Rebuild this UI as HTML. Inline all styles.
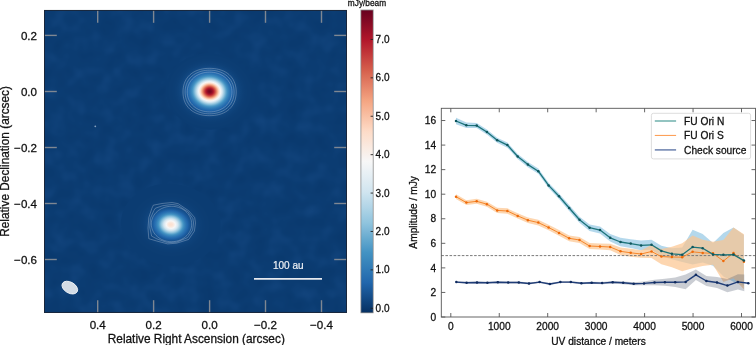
<!DOCTYPE html>
<html><head><meta charset="utf-8"><style>
html,body{margin:0;padding:0;background:#fff;width:756px;height:345px;overflow:hidden}
svg{display:block;will-change:transform}
text{font-family:'Liberation Sans', sans-serif;fill:#111;stroke:#111;stroke-width:0.28px}
</style></head><body>
<svg width="756" height="345" viewBox="0 0 756 345">
<defs><radialGradient id="gN"><stop offset="0.0000" stop-color="#760521"/><stop offset="0.0100" stop-color="#770522"/><stop offset="0.0200" stop-color="#7a0622"/><stop offset="0.0300" stop-color="#7e0723"/><stop offset="0.0400" stop-color="#840924"/><stop offset="0.0500" stop-color="#8b0c25"/><stop offset="0.0600" stop-color="#940e26"/><stop offset="0.0700" stop-color="#9e1228"/><stop offset="0.0800" stop-color="#aa162a"/><stop offset="0.0900" stop-color="#b51d2d"/><stop offset="0.1000" stop-color="#bb2b34"/><stop offset="0.1100" stop-color="#c33a3b"/><stop offset="0.1200" stop-color="#cb4a42"/><stop offset="0.1300" stop-color="#d35a4a"/><stop offset="0.1400" stop-color="#db6b56"/><stop offset="0.1500" stop-color="#e27c63"/><stop offset="0.1600" stop-color="#ea8e70"/><stop offset="0.1700" stop-color="#f2a07e"/><stop offset="0.1800" stop-color="#f6b090"/><stop offset="0.1900" stop-color="#f8bea2"/><stop offset="0.2000" stop-color="#fbcdb5"/><stop offset="0.2100" stop-color="#fddbc8"/><stop offset="0.2200" stop-color="#fbe3d5"/><stop offset="0.2300" stop-color="#faeae1"/><stop offset="0.2400" stop-color="#f8f2ee"/><stop offset="0.2500" stop-color="#f4f6f6"/><stop offset="0.2600" stop-color="#ebf1f5"/><stop offset="0.2700" stop-color="#e1edf3"/><stop offset="0.2800" stop-color="#d8e8f1"/><stop offset="0.2900" stop-color="#cee3ef"/><stop offset="0.3000" stop-color="#c0dceb"/><stop offset="0.3100" stop-color="#b2d5e7"/><stop offset="0.3200" stop-color="#a5cfe3"/><stop offset="0.3300" stop-color="#98c8e0"/><stop offset="0.3400" stop-color="#8bc1dc"/><stop offset="0.3500" stop-color="#7db7d7"/><stop offset="0.3600" stop-color="#6fafd2"/><stop offset="0.3700" stop-color="#62a7ce"/><stop offset="0.3800" stop-color="#569fca"/><stop offset="0.3900" stop-color="#4b98c6"/><stop offset="0.4000" stop-color="#4291c2"/><stop offset="0.4100" stop-color="#3d8bbf"/><stop offset="0.4200" stop-color="#3986bc"/><stop offset="0.4300" stop-color="#3581ba"/><stop offset="0.4400" stop-color="#327cb7"/><stop offset="0.4500" stop-color="#2e78b5"/><stop offset="0.4600" stop-color="#2b74b3"/><stop offset="0.4700" stop-color="#2870b1"/><stop offset="0.4800" stop-color="#266caf"/><stop offset="0.4900" stop-color="#2369ae"/><stop offset="0.5000" stop-color="#2166ac"/><stop offset="0.5100" stop-color="#1f63a7"/><stop offset="0.5200" stop-color="#1e5fa3"/><stop offset="0.5300" stop-color="#1c5c9f"/><stop offset="0.5400" stop-color="#1b5a9b"/><stop offset="0.5500" stop-color="#195798"/><stop offset="0.5600" stop-color="#185594"/><stop offset="0.5700" stop-color="#175391"/><stop offset="0.5800" stop-color="#16518f"/><stop offset="0.5900" stop-color="#154f8c"/><stop offset="0.6000" stop-color="#144e8a"/><stop offset="0.6100" stop-color="#144c88"/><stop offset="0.6200" stop-color="#134b86"/><stop offset="0.6300" stop-color="#124984"/><stop offset="0.6400" stop-color="#124882"/><stop offset="0.6500" stop-color="#114781"/><stop offset="0.6600" stop-color="#104680"/><stop offset="0.6700" stop-color="#10457e"/><stop offset="0.6800" stop-color="#10447d"/><stop offset="0.6900" stop-color="#0f447c"/><stop offset="0.7000" stop-color="#0f437b"/><stop offset="0.7100" stop-color="#0e427a"/><stop offset="0.7200" stop-color="#0e4279"/><stop offset="0.7300" stop-color="#0e4179"/><stop offset="0.7400" stop-color="#0e4178"/><stop offset="0.7500" stop-color="#0d4077"/><stop offset="0.7600" stop-color="#0d4077"/><stop offset="0.7700" stop-color="#0d3f76"/><stop offset="0.7800" stop-color="#0d3f76"/><stop offset="0.7900" stop-color="#0d3f75"/><stop offset="0.8000" stop-color="#0c3e75"/><stop offset="0.8100" stop-color="#0c3e75"/><stop offset="0.8200" stop-color="#0c3e74"/><stop offset="0.8300" stop-color="#0c3e74"/><stop offset="0.8400" stop-color="#0c3e74"/><stop offset="0.8500" stop-color="#0c3d74"/><stop offset="0.8600" stop-color="#0c3d73"/><stop offset="0.8700" stop-color="#0c3d73"/><stop offset="0.8800" stop-color="#0c3d73"/><stop offset="0.8900" stop-color="#0c3d73"/><stop offset="0.9000" stop-color="#0c3d73"/><stop offset="0.9100" stop-color="#0c3d73"/><stop offset="0.9200" stop-color="#0c3d73"/><stop offset="0.9300" stop-color="#0c3d72"/><stop offset="0.9400" stop-color="#0b3d72"/><stop offset="0.9500" stop-color="#0b3c72"/><stop offset="0.9600" stop-color="#0b3c72"/><stop offset="0.9700" stop-color="#0b3c72"/><stop offset="0.9800" stop-color="#0b3c72"/><stop offset="0.9900" stop-color="#0b3c72"/><stop offset="1.0000" stop-color="#0b3c72"/></radialGradient>
<radialGradient id="gS"><stop offset="0.0000" stop-color="#fce1d0"/><stop offset="0.0100" stop-color="#fce1d1"/><stop offset="0.0200" stop-color="#fce2d3"/><stop offset="0.0300" stop-color="#fbe3d5"/><stop offset="0.0400" stop-color="#fbe5d9"/><stop offset="0.0500" stop-color="#fae8dd"/><stop offset="0.0600" stop-color="#faebe2"/><stop offset="0.0700" stop-color="#f9eee8"/><stop offset="0.0800" stop-color="#f8f2ef"/><stop offset="0.0900" stop-color="#f7f7f7"/><stop offset="0.1000" stop-color="#f1f4f6"/><stop offset="0.1100" stop-color="#eaf1f5"/><stop offset="0.1200" stop-color="#e3edf3"/><stop offset="0.1300" stop-color="#dbeaf2"/><stop offset="0.1400" stop-color="#d4e6f1"/><stop offset="0.1500" stop-color="#c9e1ee"/><stop offset="0.1600" stop-color="#bcdbea"/><stop offset="0.1700" stop-color="#b0d4e6"/><stop offset="0.1800" stop-color="#a3cee3"/><stop offset="0.1900" stop-color="#97c7df"/><stop offset="0.2000" stop-color="#89bfdb"/><stop offset="0.2100" stop-color="#7ab6d6"/><stop offset="0.2200" stop-color="#6cadd1"/><stop offset="0.2300" stop-color="#5ea4cc"/><stop offset="0.2400" stop-color="#519cc8"/><stop offset="0.2500" stop-color="#4494c4"/><stop offset="0.2600" stop-color="#3f8dc0"/><stop offset="0.2700" stop-color="#3a87bd"/><stop offset="0.2800" stop-color="#3581ba"/><stop offset="0.2900" stop-color="#317cb7"/><stop offset="0.3000" stop-color="#2e77b4"/><stop offset="0.3100" stop-color="#2a72b2"/><stop offset="0.3200" stop-color="#276eb0"/><stop offset="0.3300" stop-color="#246aae"/><stop offset="0.3400" stop-color="#2166ac"/><stop offset="0.3500" stop-color="#1f62a6"/><stop offset="0.3600" stop-color="#1d5ea1"/><stop offset="0.3700" stop-color="#1b5b9d"/><stop offset="0.3800" stop-color="#1a5899"/><stop offset="0.3900" stop-color="#185595"/><stop offset="0.4000" stop-color="#175392"/><stop offset="0.4100" stop-color="#16518f"/><stop offset="0.4200" stop-color="#154f8c"/><stop offset="0.4300" stop-color="#144d89"/><stop offset="0.4400" stop-color="#134b87"/><stop offset="0.4500" stop-color="#124a85"/><stop offset="0.4600" stop-color="#124983"/><stop offset="0.4700" stop-color="#114782"/><stop offset="0.4800" stop-color="#114680"/><stop offset="0.4900" stop-color="#10457f"/><stop offset="0.5000" stop-color="#10457e"/><stop offset="0.5100" stop-color="#0f447c"/><stop offset="0.5200" stop-color="#0f437b"/><stop offset="0.5300" stop-color="#0f427b"/><stop offset="0.5400" stop-color="#0e427a"/><stop offset="0.5500" stop-color="#0e4179"/><stop offset="0.5600" stop-color="#0e4178"/><stop offset="0.5700" stop-color="#0d4078"/><stop offset="0.5800" stop-color="#0d4077"/><stop offset="0.5900" stop-color="#0d4077"/><stop offset="0.6000" stop-color="#0d3f76"/><stop offset="0.6100" stop-color="#0d3f76"/><stop offset="0.6200" stop-color="#0d3f75"/><stop offset="0.6300" stop-color="#0c3e75"/><stop offset="0.6400" stop-color="#0c3e75"/><stop offset="0.6500" stop-color="#0c3e74"/><stop offset="0.6600" stop-color="#0c3e74"/><stop offset="0.6700" stop-color="#0c3e74"/><stop offset="0.6800" stop-color="#0c3d74"/><stop offset="0.6900" stop-color="#0c3d73"/><stop offset="0.7000" stop-color="#0c3d73"/><stop offset="0.7100" stop-color="#0c3d73"/><stop offset="0.7200" stop-color="#0c3d73"/><stop offset="0.7300" stop-color="#0c3d73"/><stop offset="0.7400" stop-color="#0c3d73"/><stop offset="0.7500" stop-color="#0c3d73"/><stop offset="0.7600" stop-color="#0c3d72"/><stop offset="0.7700" stop-color="#0b3d72"/><stop offset="0.7800" stop-color="#0b3c72"/><stop offset="0.7900" stop-color="#0b3c72"/><stop offset="0.8000" stop-color="#0b3c72"/><stop offset="0.8100" stop-color="#0b3c72"/><stop offset="0.8200" stop-color="#0b3c72"/><stop offset="0.8300" stop-color="#0b3c72"/><stop offset="0.8400" stop-color="#0b3c72"/><stop offset="0.8500" stop-color="#0b3c72"/><stop offset="0.8600" stop-color="#0b3c72"/><stop offset="0.8700" stop-color="#0b3c72"/><stop offset="0.8800" stop-color="#0b3c72"/><stop offset="0.8900" stop-color="#0b3c72"/><stop offset="0.9000" stop-color="#0b3c72"/><stop offset="0.9100" stop-color="#0b3c72"/><stop offset="0.9200" stop-color="#0b3c72"/><stop offset="0.9300" stop-color="#0b3c72"/><stop offset="0.9400" stop-color="#0b3c72"/><stop offset="0.9500" stop-color="#0b3c72"/><stop offset="0.9600" stop-color="#0b3c72"/><stop offset="0.9700" stop-color="#0b3c72"/><stop offset="0.9800" stop-color="#0b3c72"/><stop offset="0.9900" stop-color="#0b3c72"/><stop offset="1.0000" stop-color="#0b3c72"/></radialGradient>
<linearGradient id="cb" x1="0" y1="0" x2="0" y2="1"><stop offset="0.0000" stop-color="#67001f"/><stop offset="0.0167" stop-color="#740421"/><stop offset="0.0333" stop-color="#800823"/><stop offset="0.0500" stop-color="#8c0c25"/><stop offset="0.0667" stop-color="#991027"/><stop offset="0.0833" stop-color="#a61429"/><stop offset="0.1000" stop-color="#b2182b"/><stop offset="0.1167" stop-color="#b82431"/><stop offset="0.1333" stop-color="#be3036"/><stop offset="0.1500" stop-color="#c43c3c"/><stop offset="0.1667" stop-color="#ca4842"/><stop offset="0.1833" stop-color="#d05447"/><stop offset="0.2000" stop-color="#d6604d"/><stop offset="0.2167" stop-color="#db6c56"/><stop offset="0.2333" stop-color="#e0775f"/><stop offset="0.2500" stop-color="#e58268"/><stop offset="0.2667" stop-color="#ea8e70"/><stop offset="0.2833" stop-color="#ef9979"/><stop offset="0.3000" stop-color="#f4a582"/><stop offset="0.3167" stop-color="#f6ae8d"/><stop offset="0.3333" stop-color="#f7b799"/><stop offset="0.3500" stop-color="#f8c0a4"/><stop offset="0.3667" stop-color="#fac9b0"/><stop offset="0.3833" stop-color="#fcd2bb"/><stop offset="0.4000" stop-color="#fddbc7"/><stop offset="0.4167" stop-color="#fce0cf"/><stop offset="0.4333" stop-color="#fbe4d7"/><stop offset="0.4500" stop-color="#fae9df"/><stop offset="0.4667" stop-color="#f9eee7"/><stop offset="0.4833" stop-color="#f8f2ef"/><stop offset="0.5000" stop-color="#f7f7f7"/><stop offset="0.5167" stop-color="#f1f4f6"/><stop offset="0.5333" stop-color="#eaf1f5"/><stop offset="0.5500" stop-color="#e4eef4"/><stop offset="0.5667" stop-color="#deebf2"/><stop offset="0.5833" stop-color="#d7e8f1"/><stop offset="0.6000" stop-color="#d1e5f0"/><stop offset="0.6167" stop-color="#c6e0ed"/><stop offset="0.6333" stop-color="#bcdaea"/><stop offset="0.6500" stop-color="#b2d5e7"/><stop offset="0.6667" stop-color="#a7d0e4"/><stop offset="0.6833" stop-color="#9ccae1"/><stop offset="0.7000" stop-color="#92c5de"/><stop offset="0.7167" stop-color="#85bdda"/><stop offset="0.7333" stop-color="#78b4d5"/><stop offset="0.7500" stop-color="#6aacd0"/><stop offset="0.7667" stop-color="#5da4cc"/><stop offset="0.7833" stop-color="#509bc8"/><stop offset="0.8000" stop-color="#4393c3"/><stop offset="0.8167" stop-color="#3d8cbf"/><stop offset="0.8333" stop-color="#3884bb"/><stop offset="0.8500" stop-color="#327db8"/><stop offset="0.8667" stop-color="#2c75b4"/><stop offset="0.8833" stop-color="#276eb0"/><stop offset="0.9000" stop-color="#2166ac"/><stop offset="0.9167" stop-color="#1c5da0"/><stop offset="0.9333" stop-color="#185493"/><stop offset="0.9500" stop-color="#134b87"/><stop offset="0.9667" stop-color="#0e427a"/><stop offset="0.9833" stop-color="#0a396e"/><stop offset="1.0000" stop-color="#053061"/></linearGradient>
<filter id="nzL" x="44" y="10" width="303" height="303" filterUnits="userSpaceOnUse" color-interpolation-filters="sRGB"><feTurbulence type="fractalNoise" baseFrequency="0.06" numOctaves="2" seed="11"/><feColorMatrix type="matrix" values="0 0 0 0 0.25  0 0 0 0 0.48  0 0 0 0 0.78  0.3 0 0 0 -0.15"/></filter>
<filter id="nzD" x="44" y="10" width="303" height="303" filterUnits="userSpaceOnUse" color-interpolation-filters="sRGB"><feTurbulence type="fractalNoise" baseFrequency="0.06" numOctaves="2" seed="11"/><feColorMatrix type="matrix" values="0 0 0 0 0.0  0 0 0 0 0.12  0 0 0 0 0.28  -0.3 0 0 0 0.15"/></filter>
<clipPath id="clipL"><rect x="44" y="10" width="303" height="303"/></clipPath></defs>
<g clip-path="url(#clipL)">
<rect x="44" y="10" width="303" height="303" fill="#0b3c72"/>
<rect x="44" y="10" width="303" height="303" filter="url(#nzL)"/>
<rect x="44" y="10" width="303" height="303" filter="url(#nzD)"/>
<g transform="translate(209.70 91.40) rotate(5.0) scale(1 0.8700)"><circle cx="0" cy="0" r="44.00" fill="url(#gN)"/></g>
<g transform="translate(170.80 224.60) rotate(5.0) scale(1 0.8200)"><circle cx="0" cy="0" r="50.00" fill="url(#gS)"/></g>
<path d="M236.21 92.00 L236.14 94.06 L235.92 96.13 L235.54 98.18 L234.99 100.22 L234.24 102.22 L233.28 104.16 L232.11 106.01 L230.71 107.75 L229.11 109.35 L227.31 110.77 L225.36 112.01 L223.27 113.06 L221.09 113.91 L218.84 114.58 L216.55 115.07 L214.24 115.41 L211.92 115.60 L209.60 115.67 L207.28 115.60 L204.96 115.41 L202.65 115.07 L200.36 114.58 L198.11 113.91 L195.93 113.06 L193.84 112.01 L191.89 110.77 L190.09 109.35 L188.49 107.75 L187.09 106.01 L185.92 104.16 L184.96 102.22 L184.21 100.22 L183.66 98.18 L183.28 96.13 L183.06 94.06 L182.99 92.00 L183.06 89.94 L183.28 87.87 L183.66 85.82 L184.21 83.78 L184.96 81.78 L185.92 79.84 L187.09 77.99 L188.49 76.25 L190.09 74.65 L191.89 73.23 L193.84 71.99 L195.93 70.94 L198.11 70.09 L200.36 69.42 L202.65 68.93 L204.96 68.59 L207.28 68.40 L209.60 68.33 L211.92 68.40 L214.24 68.59 L216.55 68.93 L218.84 69.42 L221.09 70.09 L223.27 70.94 L225.36 71.99 L227.31 73.23 L229.11 74.65 L230.71 76.25 L232.11 77.99 L233.28 79.84 L234.24 81.78 L234.99 83.78 L235.54 85.82 L235.92 87.87 L236.14 89.94 Z" stroke="rgba(200,212,228,0.42)" stroke-width="0.8" fill="none"/>
<path d="M234.10 92.00 L234.03 93.90 L233.80 95.80 L233.41 97.69 L232.86 99.54 L232.12 101.36 L231.21 103.12 L230.10 104.79 L228.81 106.37 L227.35 107.81 L225.72 109.12 L223.96 110.27 L222.07 111.25 L220.10 112.07 L218.06 112.72 L215.98 113.22 L213.87 113.56 L211.74 113.77 L209.60 113.83 L207.46 113.77 L205.33 113.56 L203.22 113.22 L201.14 112.72 L199.10 112.07 L197.13 111.25 L195.24 110.27 L193.48 109.12 L191.85 107.81 L190.39 106.37 L189.10 104.79 L187.99 103.12 L187.08 101.36 L186.34 99.54 L185.79 97.69 L185.40 95.80 L185.17 93.90 L185.10 92.00 L185.17 90.10 L185.40 88.20 L185.79 86.31 L186.34 84.46 L187.08 82.64 L187.99 80.88 L189.10 79.21 L190.39 77.63 L191.85 76.19 L193.48 74.88 L195.24 73.73 L197.13 72.75 L199.10 71.93 L201.14 71.28 L203.22 70.78 L205.33 70.44 L207.46 70.23 L209.60 70.17 L211.74 70.23 L213.87 70.44 L215.98 70.78 L218.06 71.28 L220.10 71.93 L222.07 72.75 L223.96 73.73 L225.72 74.88 L227.35 76.19 L228.81 77.63 L230.10 79.21 L231.21 80.88 L232.12 82.64 L232.86 84.46 L233.41 86.31 L233.80 88.20 L234.03 90.10 Z" stroke="rgba(200,212,228,0.42)" stroke-width="0.8" fill="none"/>
<path d="M231.97 92.00 L231.89 93.73 L231.66 95.46 L231.27 97.16 L230.72 98.83 L230.01 100.46 L229.14 102.03 L228.12 103.52 L226.93 104.93 L225.61 106.23 L224.14 107.41 L222.56 108.46 L220.88 109.37 L219.12 110.15 L217.29 110.77 L215.41 111.26 L213.49 111.61 L211.55 111.81 L209.60 111.88 L207.65 111.81 L205.71 111.61 L203.79 111.26 L201.91 110.77 L200.08 110.15 L198.32 109.37 L196.64 108.46 L195.06 107.41 L193.59 106.23 L192.27 104.93 L191.08 103.52 L190.06 102.03 L189.19 100.46 L188.48 98.83 L187.93 97.16 L187.54 95.46 L187.31 93.73 L187.23 92.00 L187.31 90.27 L187.54 88.54 L187.93 86.84 L188.48 85.17 L189.19 83.54 L190.06 81.97 L191.08 80.48 L192.27 79.07 L193.59 77.77 L195.06 76.59 L196.64 75.54 L198.32 74.63 L200.08 73.85 L201.91 73.23 L203.79 72.74 L205.71 72.39 L207.65 72.19 L209.60 72.12 L211.55 72.19 L213.49 72.39 L215.41 72.74 L217.29 73.23 L219.12 73.85 L220.88 74.63 L222.56 75.54 L224.14 76.59 L225.61 77.77 L226.93 79.07 L228.12 80.48 L229.14 81.97 L230.01 83.54 L230.72 85.17 L231.27 86.84 L231.66 88.54 L231.89 90.27 Z" stroke="rgba(200,212,228,0.42)" stroke-width="0.8" fill="none"/>
<path d="M153.30 205.20 L162.00 203.50 L172.10 202.50 L178.20 203.70 L188.70 210.80 L194.70 217.60 L195.50 222.90 L194.40 231.10 L188.70 239.40 L176.60 243.20 L167.60 243.90 L156.30 240.90 L148.80 238.70 L148.00 228.10 L148.80 217.60 L151.80 208.50 Z" stroke="rgba(200,212,228,0.42)" stroke-width="0.8" fill="none"/>
<path d="M155.37 208.24 L162.50 205.72 L172.08 204.40 L178.02 205.45 L188.11 212.01 L192.84 218.45 L193.59 223.04 L192.60 230.17 L187.62 237.60 L176.64 242.15 L167.61 242.63 L157.15 239.03 L151.67 236.16 L149.80 227.57 L150.43 218.40 L153.71 210.78 Z" stroke="rgba(200,212,228,0.42)" stroke-width="0.8" fill="none"/>
<path d="M191.70 224.00 L191.62 225.54 L191.39 227.07 L191.01 228.58 L190.48 230.05 L189.81 231.48 L188.99 232.85 L188.05 234.15 L186.97 235.38 L185.78 236.52 L184.48 237.56 L183.09 238.50 L181.60 239.33 L180.04 240.04 L178.41 240.63 L176.73 241.10 L175.01 241.43 L173.26 241.63 L171.50 241.70 L169.74 241.63 L167.99 241.43 L166.27 241.10 L164.59 240.63 L162.96 240.04 L161.40 239.33 L159.91 238.50 L158.52 237.56 L157.22 236.52 L156.03 235.38 L154.95 234.15 L154.01 232.85 L153.19 231.48 L152.52 230.05 L151.99 228.58 L151.61 227.07 L151.38 225.54 L151.30 224.00 L151.38 222.46 L151.61 220.93 L151.99 219.42 L152.52 217.95 L153.19 216.52 L154.01 215.15 L154.95 213.85 L156.03 212.62 L157.22 211.48 L158.52 210.44 L159.91 209.50 L161.40 208.67 L162.96 207.96 L164.59 207.37 L166.27 206.90 L167.99 206.57 L169.74 206.37 L171.50 206.30 L173.26 206.37 L175.01 206.57 L176.73 206.90 L178.41 207.37 L180.04 207.96 L181.60 208.67 L183.09 209.50 L184.48 210.44 L185.78 211.48 L186.97 212.62 L188.05 213.85 L188.99 215.15 L189.81 216.52 L190.48 217.95 L191.01 219.42 L191.39 220.93 L191.62 222.46 Z" stroke="rgba(200,212,228,0.42)" stroke-width="0.8" fill="none"/>
<circle cx="95.3" cy="126.3" r="0.9" fill="rgba(190,205,225,0.7)"/>
<ellipse cx="69.8" cy="287.6" rx="8.5" ry="5.5" transform="rotate(30 69.8 287.6)" fill="rgba(255,255,255,0.82)" stroke="rgba(255,255,255,0.95)" stroke-width="0.8"/>
<line x1="254" y1="278.9" x2="322" y2="278.9" stroke="#e6e9ee" stroke-width="1.7"/>
<text x="288.3" y="269.1" font-size="10" style="fill:#eef1f5;stroke:#eef1f5;stroke-width:0.2px" text-anchor="middle">100 au</text>
<line x1="97.7" y1="10" x2="97.7" y2="22.8" stroke="#7f8792" stroke-width="1.4"/>
<line x1="97.7" y1="313" x2="97.7" y2="300.2" stroke="#7f8792" stroke-width="1.4"/>
<line x1="153.6" y1="10" x2="153.6" y2="22.8" stroke="#7f8792" stroke-width="1.4"/>
<line x1="153.6" y1="313" x2="153.6" y2="300.2" stroke="#7f8792" stroke-width="1.4"/>
<line x1="209.6" y1="10" x2="209.6" y2="22.8" stroke="#7f8792" stroke-width="1.4"/>
<line x1="209.6" y1="313" x2="209.6" y2="300.2" stroke="#7f8792" stroke-width="1.4"/>
<line x1="265.5" y1="10" x2="265.5" y2="22.8" stroke="#7f8792" stroke-width="1.4"/>
<line x1="265.5" y1="313" x2="265.5" y2="300.2" stroke="#7f8792" stroke-width="1.4"/>
<line x1="321.5" y1="10" x2="321.5" y2="22.8" stroke="#7f8792" stroke-width="1.4"/>
<line x1="321.5" y1="313" x2="321.5" y2="300.2" stroke="#7f8792" stroke-width="1.4"/>
<line x1="44" y1="35.4" x2="56.8" y2="35.4" stroke="#7f8792" stroke-width="1.4"/>
<line x1="347" y1="35.4" x2="334.2" y2="35.4" stroke="#7f8792" stroke-width="1.4"/>
<line x1="44" y1="91.5" x2="56.8" y2="91.5" stroke="#7f8792" stroke-width="1.4"/>
<line x1="347" y1="91.5" x2="334.2" y2="91.5" stroke="#7f8792" stroke-width="1.4"/>
<line x1="44" y1="147.5" x2="56.8" y2="147.5" stroke="#7f8792" stroke-width="1.4"/>
<line x1="347" y1="147.5" x2="334.2" y2="147.5" stroke="#7f8792" stroke-width="1.4"/>
<line x1="44" y1="203.5" x2="56.8" y2="203.5" stroke="#7f8792" stroke-width="1.4"/>
<line x1="347" y1="203.5" x2="334.2" y2="203.5" stroke="#7f8792" stroke-width="1.4"/>
<line x1="44" y1="259.5" x2="56.8" y2="259.5" stroke="#7f8792" stroke-width="1.4"/>
<line x1="347" y1="259.5" x2="334.2" y2="259.5" stroke="#7f8792" stroke-width="1.4"/>
</g>
<rect x="44.5" y="10.4" width="302" height="302" fill="none" stroke="#1c2535" stroke-width="0.9"/>
<text x="97.7" y="329.3" font-size="11.60" text-anchor="middle">0.4</text>
<text x="153.6" y="329.3" font-size="11.60" text-anchor="middle">0.2</text>
<text x="209.6" y="329.3" font-size="11.60" text-anchor="middle">0.0</text>
<text x="265.5" y="329.3" font-size="11.60" text-anchor="middle">−0.2</text>
<text x="321.5" y="329.3" font-size="11.60" text-anchor="middle">−0.4</text>
<text x="37.0" y="39.7" font-size="11.60" text-anchor="end">0.2</text>
<text x="37.0" y="95.8" font-size="11.60" text-anchor="end">0.0</text>
<text x="37.0" y="151.8" font-size="11.60" text-anchor="end">−0.2</text>
<text x="37.0" y="207.8" font-size="11.60" text-anchor="end">−0.4</text>
<text x="37.0" y="263.8" font-size="11.60" text-anchor="end">−0.6</text>
<text x="196.3" y="343.4" font-size="11.85" text-anchor="middle">Relative Right Ascension (arcsec)</text>
<text transform="translate(9.1 161.4) rotate(-90)" x="0" y="0" font-size="11.85" text-anchor="middle">Relative Declination (arcsec)</text>
<rect x="361" y="10" width="12" height="303" fill="url(#cb)"/>
<rect x="360.9" y="10" width="12.3" height="302.8" fill="none" stroke="#8a8a8a" stroke-width="0.8"/>
<line x1="370.6" y1="308.30" x2="373" y2="308.30" stroke="#222" stroke-width="0.9"/>
<text x="375.6" y="311.90" font-size="10.00">0.0</text>
<line x1="370.6" y1="269.89" x2="373" y2="269.89" stroke="#222" stroke-width="0.9"/>
<text x="375.6" y="273.49" font-size="10.00">1.0</text>
<line x1="370.6" y1="231.48" x2="373" y2="231.48" stroke="#222" stroke-width="0.9"/>
<text x="375.6" y="235.08" font-size="10.00">2.0</text>
<line x1="370.6" y1="193.07" x2="373" y2="193.07" stroke="#222" stroke-width="0.9"/>
<text x="375.6" y="196.67" font-size="10.00">3.0</text>
<line x1="370.6" y1="154.66" x2="373" y2="154.66" stroke="#222" stroke-width="0.9"/>
<text x="375.6" y="158.26" font-size="10.00">4.0</text>
<line x1="370.6" y1="116.25" x2="373" y2="116.25" stroke="#222" stroke-width="0.9"/>
<text x="375.6" y="119.85" font-size="10.00">5.0</text>
<line x1="370.6" y1="77.84" x2="373" y2="77.84" stroke="#222" stroke-width="0.9"/>
<text x="375.6" y="81.44" font-size="10.00">6.0</text>
<line x1="370.6" y1="39.43" x2="373" y2="39.43" stroke="#222" stroke-width="0.9"/>
<text x="375.6" y="43.03" font-size="10.00">7.0</text>
<text x="367" y="6.4" font-size="8.3" text-anchor="middle">mJy/beam</text>
<g clip-path="url(#clipR)">
<path d="M456.00 117.70 L466.40 122.50 L476.70 123.10 L486.90 129.48 L497.20 137.67 L507.40 142.55 L517.70 153.94 L527.90 162.02 L538.30 168.60 L548.60 182.71 L559.00 193.41 L569.20 205.11 L579.50 216.70 L589.60 224.46 L600.00 226.60 L610.20 233.98 L620.50 237.85 L630.70 239.13 L641.10 240.60 L651.50 239.76 L661.40 245.64 L671.90 248.30 L682.20 247.50 L692.60 229.70 L702.70 234.00 L713.00 243.00 L723.40 233.00 L733.50 227.50 L743.90 235.10 L743.90 286.10 L733.50 281.70 L723.40 276.60 L713.00 265.80 L702.70 262.40 L692.60 264.50 L682.20 261.90 L671.90 259.30 L661.40 256.16 L651.50 249.84 L641.10 250.20 L630.70 248.07 L620.50 246.15 L610.20 241.62 L600.00 233.60 L589.60 230.94 L579.50 222.69 L569.20 210.89 L559.00 198.99 L548.60 188.09 L538.30 173.80 L527.90 167.18 L517.70 159.06 L507.40 147.65 L497.20 142.73 L486.90 134.52 L476.70 128.10 L466.40 128.10 L456.00 124.30 Z" fill="rgb(172,212,234)" fill-opacity="0.9"/>
<path d="M456.00 194.30 L466.40 200.15 L476.70 198.80 L486.90 201.65 L497.20 207.80 L507.40 208.36 L517.70 213.21 L527.90 217.46 L538.30 219.81 L548.60 224.67 L559.00 230.04 L569.20 235.40 L579.50 237.07 L589.60 243.03 L600.00 243.50 L610.20 243.66 L620.50 247.62 L630.70 248.81 L641.10 250.20 L651.50 245.00 L661.40 249.00 L671.90 246.80 L682.20 243.20 L692.60 235.40 L702.70 239.70 L713.00 241.80 L723.40 240.00 L733.50 227.50 L743.90 234.20 L743.90 289.20 L733.50 278.30 L723.40 282.00 L713.00 264.80 L702.70 266.10 L692.60 268.20 L682.20 271.20 L671.90 267.20 L661.40 264.20 L651.50 258.00 L641.10 257.80 L630.70 256.79 L620.50 254.98 L610.20 250.34 L600.00 249.50 L589.60 248.97 L579.50 242.93 L569.20 241.20 L559.00 235.76 L548.60 230.33 L538.30 225.39 L527.90 222.94 L517.70 218.59 L507.40 213.64 L497.20 213.00 L486.90 206.75 L476.70 203.80 L466.40 205.05 L456.00 199.10 Z" fill="rgb(252,196,142)" fill-opacity="0.7"/>
<path d="M456.30 281.20 L466.60 281.79 L477.00 281.59 L487.40 281.78 L497.80 281.27 L508.20 281.56 L518.80 281.56 L529.00 282.55 L539.60 281.14 L549.90 283.03 L560.40 281.13 L570.80 281.12 L581.40 282.31 L591.70 281.71 L602.10 282.07 L612.70 281.01 L623.20 281.45 L633.70 282.29 L644.00 281.50 L654.50 279.80 L664.90 278.70 L675.20 277.40 L685.60 274.60 L695.90 269.60 L706.40 276.00 L717.00 276.90 L727.40 279.00 L737.90 274.20 L744.30 274.60 L744.30 291.20 L737.90 289.60 L727.40 292.20 L717.00 288.10 L706.40 286.00 L695.90 280.00 L685.60 289.20 L675.20 287.00 L664.90 285.70 L654.50 285.20 L644.00 285.30 L633.70 285.31 L623.20 284.15 L612.70 283.39 L602.10 284.13 L591.70 283.69 L581.40 284.29 L570.80 283.08 L560.40 283.07 L549.90 284.97 L539.60 283.06 L529.00 284.45 L518.80 283.44 L508.20 283.44 L497.80 283.13 L487.40 283.62 L477.00 283.41 L466.60 283.61 L456.30 283.00 Z" fill="rgb(80,90,110)" fill-opacity="0.3"/>
<line x1="441.3" y1="255.6" x2="755.5" y2="255.6" stroke="#7a7a7a" stroke-width="1" stroke-dasharray="2.6 1.5"/>
<polyline points="456.30,282.10 466.60,282.70 477.00,282.50 487.40,282.70 497.80,282.20 508.20,282.50 518.80,282.50 529.00,283.50 539.60,282.10 549.90,284.00 560.40,282.10 570.80,282.10 581.40,283.30 591.70,282.70 602.10,283.10 612.70,282.20 623.20,282.80 633.70,283.80 644.00,283.40 654.50,282.50 664.90,282.20 675.20,282.20 685.60,281.90 695.90,274.80 706.40,281.00 717.00,282.50 727.40,285.60 737.90,281.90 748.30,283.20" fill="none" stroke="#1f3d78" stroke-width="1.40" stroke-linejoin="round"/>
<circle cx="456.30" cy="282.10" r="1.25" fill="#0f2a5e"/>
<circle cx="466.60" cy="282.70" r="1.25" fill="#0f2a5e"/>
<circle cx="477.00" cy="282.50" r="1.25" fill="#0f2a5e"/>
<circle cx="487.40" cy="282.70" r="1.25" fill="#0f2a5e"/>
<circle cx="497.80" cy="282.20" r="1.25" fill="#0f2a5e"/>
<circle cx="508.20" cy="282.50" r="1.25" fill="#0f2a5e"/>
<circle cx="518.80" cy="282.50" r="1.25" fill="#0f2a5e"/>
<circle cx="529.00" cy="283.50" r="1.25" fill="#0f2a5e"/>
<circle cx="539.60" cy="282.10" r="1.25" fill="#0f2a5e"/>
<circle cx="549.90" cy="284.00" r="1.25" fill="#0f2a5e"/>
<circle cx="560.40" cy="282.10" r="1.25" fill="#0f2a5e"/>
<circle cx="570.80" cy="282.10" r="1.25" fill="#0f2a5e"/>
<circle cx="581.40" cy="283.30" r="1.25" fill="#0f2a5e"/>
<circle cx="591.70" cy="282.70" r="1.25" fill="#0f2a5e"/>
<circle cx="602.10" cy="283.10" r="1.25" fill="#0f2a5e"/>
<circle cx="612.70" cy="282.20" r="1.25" fill="#0f2a5e"/>
<circle cx="623.20" cy="282.80" r="1.25" fill="#0f2a5e"/>
<circle cx="633.70" cy="283.80" r="1.25" fill="#0f2a5e"/>
<circle cx="644.00" cy="283.40" r="1.25" fill="#0f2a5e"/>
<circle cx="654.50" cy="282.50" r="1.25" fill="#0f2a5e"/>
<circle cx="664.90" cy="282.20" r="1.25" fill="#0f2a5e"/>
<circle cx="675.20" cy="282.20" r="1.25" fill="#0f2a5e"/>
<circle cx="685.60" cy="281.90" r="1.25" fill="#0f2a5e"/>
<circle cx="695.90" cy="274.80" r="1.25" fill="#0f2a5e"/>
<circle cx="706.40" cy="281.00" r="1.25" fill="#0f2a5e"/>
<circle cx="717.00" cy="282.50" r="1.25" fill="#0f2a5e"/>
<circle cx="727.40" cy="285.60" r="1.25" fill="#0f2a5e"/>
<circle cx="737.90" cy="281.90" r="1.25" fill="#0f2a5e"/>
<circle cx="748.30" cy="283.20" r="1.25" fill="#0f2a5e"/>
<polyline points="456.00,196.70 466.40,202.60 476.70,201.30 486.90,204.20 497.20,210.40 507.40,211.00 517.70,215.90 527.90,220.20 538.30,222.60 548.60,227.50 559.00,232.90 569.20,238.30 579.50,240.00 589.60,246.00 600.00,246.50 610.20,247.00 620.50,251.30 630.70,252.80 641.10,254.00 651.50,251.50 661.40,256.60 671.90,257.00 682.20,257.20 692.60,251.80 702.70,252.90 713.00,253.30 723.40,261.00 733.50,252.90 743.90,261.70" fill="none" stroke="#f5862a" stroke-width="1.00" stroke-linejoin="round"/>
<circle cx="456.00" cy="196.70" r="1.25" fill="#ef6a0a"/>
<circle cx="466.40" cy="202.60" r="1.25" fill="#ef6a0a"/>
<circle cx="476.70" cy="201.30" r="1.25" fill="#ef6a0a"/>
<circle cx="486.90" cy="204.20" r="1.25" fill="#ef6a0a"/>
<circle cx="497.20" cy="210.40" r="1.25" fill="#ef6a0a"/>
<circle cx="507.40" cy="211.00" r="1.25" fill="#ef6a0a"/>
<circle cx="517.70" cy="215.90" r="1.25" fill="#ef6a0a"/>
<circle cx="527.90" cy="220.20" r="1.25" fill="#ef6a0a"/>
<circle cx="538.30" cy="222.60" r="1.25" fill="#ef6a0a"/>
<circle cx="548.60" cy="227.50" r="1.25" fill="#ef6a0a"/>
<circle cx="559.00" cy="232.90" r="1.25" fill="#ef6a0a"/>
<circle cx="569.20" cy="238.30" r="1.25" fill="#ef6a0a"/>
<circle cx="579.50" cy="240.00" r="1.25" fill="#ef6a0a"/>
<circle cx="589.60" cy="246.00" r="1.25" fill="#ef6a0a"/>
<circle cx="600.00" cy="246.50" r="1.25" fill="#ef6a0a"/>
<circle cx="610.20" cy="247.00" r="1.25" fill="#ef6a0a"/>
<circle cx="620.50" cy="251.30" r="1.25" fill="#ef6a0a"/>
<circle cx="630.70" cy="252.80" r="1.25" fill="#ef6a0a"/>
<circle cx="641.10" cy="254.00" r="1.25" fill="#ef6a0a"/>
<circle cx="651.50" cy="251.50" r="1.25" fill="#ef6a0a"/>
<circle cx="661.40" cy="256.60" r="1.25" fill="#ef6a0a"/>
<circle cx="671.90" cy="257.00" r="1.25" fill="#ef6a0a"/>
<circle cx="682.20" cy="257.20" r="1.25" fill="#ef6a0a"/>
<circle cx="692.60" cy="251.80" r="1.25" fill="#ef6a0a"/>
<circle cx="702.70" cy="252.90" r="1.25" fill="#ef6a0a"/>
<circle cx="713.00" cy="253.30" r="1.25" fill="#ef6a0a"/>
<circle cx="723.40" cy="261.00" r="1.25" fill="#ef6a0a"/>
<circle cx="733.50" cy="252.90" r="1.25" fill="#ef6a0a"/>
<circle cx="743.90" cy="261.70" r="1.25" fill="#ef6a0a"/>
<polyline points="456.00,121.00 466.40,125.30 476.70,125.60 486.90,132.00 497.20,140.20 507.40,145.10 517.70,156.50 527.90,164.60 538.30,171.20 548.60,185.40 559.00,196.20 569.20,208.00 579.50,219.70 589.60,227.70 600.00,230.10 610.20,237.80 620.50,242.00 630.70,243.60 641.10,245.40 651.50,244.80 661.40,250.90 671.90,253.80 682.20,254.70 692.60,247.10 702.70,248.20 713.00,254.40 723.40,254.80 733.50,254.60 743.90,260.60" fill="none" stroke="#1d747a" stroke-width="1.30" stroke-linejoin="round"/>
<circle cx="456.00" cy="121.00" r="1.25" fill="#0e555c"/>
<circle cx="466.40" cy="125.30" r="1.25" fill="#0e555c"/>
<circle cx="476.70" cy="125.60" r="1.25" fill="#0e555c"/>
<circle cx="486.90" cy="132.00" r="1.25" fill="#0e555c"/>
<circle cx="497.20" cy="140.20" r="1.25" fill="#0e555c"/>
<circle cx="507.40" cy="145.10" r="1.25" fill="#0e555c"/>
<circle cx="517.70" cy="156.50" r="1.25" fill="#0e555c"/>
<circle cx="527.90" cy="164.60" r="1.25" fill="#0e555c"/>
<circle cx="538.30" cy="171.20" r="1.25" fill="#0e555c"/>
<circle cx="548.60" cy="185.40" r="1.25" fill="#0e555c"/>
<circle cx="559.00" cy="196.20" r="1.25" fill="#0e555c"/>
<circle cx="569.20" cy="208.00" r="1.25" fill="#0e555c"/>
<circle cx="579.50" cy="219.70" r="1.25" fill="#0e555c"/>
<circle cx="589.60" cy="227.70" r="1.25" fill="#0e555c"/>
<circle cx="600.00" cy="230.10" r="1.25" fill="#0e555c"/>
<circle cx="610.20" cy="237.80" r="1.25" fill="#0e555c"/>
<circle cx="620.50" cy="242.00" r="1.25" fill="#0e555c"/>
<circle cx="630.70" cy="243.60" r="1.25" fill="#0e555c"/>
<circle cx="641.10" cy="245.40" r="1.25" fill="#0e555c"/>
<circle cx="651.50" cy="244.80" r="1.25" fill="#0e555c"/>
<circle cx="661.40" cy="250.90" r="1.25" fill="#0e555c"/>
<circle cx="671.90" cy="253.80" r="1.25" fill="#0e555c"/>
<circle cx="682.20" cy="254.70" r="1.25" fill="#0e555c"/>
<circle cx="692.60" cy="247.10" r="1.25" fill="#0e555c"/>
<circle cx="702.70" cy="248.20" r="1.25" fill="#0e555c"/>
<circle cx="713.00" cy="254.40" r="1.25" fill="#0e555c"/>
<circle cx="723.40" cy="254.80" r="1.25" fill="#0e555c"/>
<circle cx="733.50" cy="254.60" r="1.25" fill="#0e555c"/>
<circle cx="743.90" cy="260.60" r="1.25" fill="#0e555c"/>
</g>
<rect x="441.30" y="108.30" width="314.20" height="208.70" fill="none" stroke="#555" stroke-width="0.9"/>
<line x1="450.80" y1="317.00" x2="450.80" y2="313.00" stroke="#555" stroke-width="0.9"/>
<line x1="450.80" y1="108.30" x2="450.80" y2="112.30" stroke="#555" stroke-width="0.9"/>
<text x="450.80" y="329.8" font-size="10.20" text-anchor="middle">0</text>
<line x1="499.25" y1="317.00" x2="499.25" y2="313.00" stroke="#555" stroke-width="0.9"/>
<line x1="499.25" y1="108.30" x2="499.25" y2="112.30" stroke="#555" stroke-width="0.9"/>
<text x="499.25" y="329.8" font-size="10.20" text-anchor="middle">1000</text>
<line x1="547.70" y1="317.00" x2="547.70" y2="313.00" stroke="#555" stroke-width="0.9"/>
<line x1="547.70" y1="108.30" x2="547.70" y2="112.30" stroke="#555" stroke-width="0.9"/>
<text x="547.70" y="329.8" font-size="10.20" text-anchor="middle">2000</text>
<line x1="596.15" y1="317.00" x2="596.15" y2="313.00" stroke="#555" stroke-width="0.9"/>
<line x1="596.15" y1="108.30" x2="596.15" y2="112.30" stroke="#555" stroke-width="0.9"/>
<text x="596.15" y="329.8" font-size="10.20" text-anchor="middle">3000</text>
<line x1="644.60" y1="317.00" x2="644.60" y2="313.00" stroke="#555" stroke-width="0.9"/>
<line x1="644.60" y1="108.30" x2="644.60" y2="112.30" stroke="#555" stroke-width="0.9"/>
<text x="644.60" y="329.8" font-size="10.20" text-anchor="middle">4000</text>
<line x1="693.05" y1="317.00" x2="693.05" y2="313.00" stroke="#555" stroke-width="0.9"/>
<line x1="693.05" y1="108.30" x2="693.05" y2="112.30" stroke="#555" stroke-width="0.9"/>
<text x="693.05" y="329.8" font-size="10.20" text-anchor="middle">5000</text>
<line x1="741.50" y1="317.00" x2="741.50" y2="313.00" stroke="#555" stroke-width="0.9"/>
<line x1="741.50" y1="108.30" x2="741.50" y2="112.30" stroke="#555" stroke-width="0.9"/>
<text x="741.50" y="329.8" font-size="10.20" text-anchor="middle">6000</text>
<line x1="441.30" y1="317.00" x2="445.30" y2="317.00" stroke="#555" stroke-width="0.9"/>
<line x1="755.50" y1="317.00" x2="751.50" y2="317.00" stroke="#555" stroke-width="0.9"/>
<text x="436.2" y="320.70" font-size="10.20" text-anchor="end">0</text>
<line x1="441.30" y1="292.44" x2="445.30" y2="292.44" stroke="#555" stroke-width="0.9"/>
<line x1="755.50" y1="292.44" x2="751.50" y2="292.44" stroke="#555" stroke-width="0.9"/>
<text x="436.2" y="296.14" font-size="10.20" text-anchor="end">2</text>
<line x1="441.30" y1="267.88" x2="445.30" y2="267.88" stroke="#555" stroke-width="0.9"/>
<line x1="755.50" y1="267.88" x2="751.50" y2="267.88" stroke="#555" stroke-width="0.9"/>
<text x="436.2" y="271.58" font-size="10.20" text-anchor="end">4</text>
<line x1="441.30" y1="243.32" x2="445.30" y2="243.32" stroke="#555" stroke-width="0.9"/>
<line x1="755.50" y1="243.32" x2="751.50" y2="243.32" stroke="#555" stroke-width="0.9"/>
<text x="436.2" y="247.02" font-size="10.20" text-anchor="end">6</text>
<line x1="441.30" y1="218.76" x2="445.30" y2="218.76" stroke="#555" stroke-width="0.9"/>
<line x1="755.50" y1="218.76" x2="751.50" y2="218.76" stroke="#555" stroke-width="0.9"/>
<text x="436.2" y="222.46" font-size="10.20" text-anchor="end">8</text>
<line x1="441.30" y1="194.20" x2="445.30" y2="194.20" stroke="#555" stroke-width="0.9"/>
<line x1="755.50" y1="194.20" x2="751.50" y2="194.20" stroke="#555" stroke-width="0.9"/>
<text x="436.2" y="197.90" font-size="10.20" text-anchor="end">10</text>
<line x1="441.30" y1="169.64" x2="445.30" y2="169.64" stroke="#555" stroke-width="0.9"/>
<line x1="755.50" y1="169.64" x2="751.50" y2="169.64" stroke="#555" stroke-width="0.9"/>
<text x="436.2" y="173.34" font-size="10.20" text-anchor="end">12</text>
<line x1="441.30" y1="145.08" x2="445.30" y2="145.08" stroke="#555" stroke-width="0.9"/>
<line x1="755.50" y1="145.08" x2="751.50" y2="145.08" stroke="#555" stroke-width="0.9"/>
<text x="436.2" y="148.78" font-size="10.20" text-anchor="end">14</text>
<line x1="441.30" y1="120.52" x2="445.30" y2="120.52" stroke="#555" stroke-width="0.9"/>
<line x1="755.50" y1="120.52" x2="751.50" y2="120.52" stroke="#555" stroke-width="0.9"/>
<text x="436.2" y="124.22" font-size="10.20" text-anchor="end">16</text>
<text x="598.5" y="344.6" font-size="10.20" text-anchor="middle">UV distance / meters</text>
<text transform="translate(417.3 212.4) rotate(-90)" font-size="10.20" text-anchor="middle">Amplitude / mJy</text>
<rect x="651.4" y="113.3" width="99.2" height="45.6" rx="2" ry="2" fill="#fff" fill-opacity="0.8" stroke="#d4d4d4" stroke-width="0.8"/>
<line x1="654.8" y1="121.00" x2="676.1" y2="121.00" stroke="#6fb0ac" stroke-width="1.50"/>
<text x="684.1" y="124.90" font-size="10.20">FU Ori N</text>
<line x1="654.8" y1="135.45" x2="676.1" y2="135.45" stroke="#fda15a" stroke-width="1.10"/>
<text x="684.1" y="139.35" font-size="10.20">FU Ori S</text>
<line x1="654.8" y1="149.90" x2="676.1" y2="149.90" stroke="#6b80ad" stroke-width="1.50"/>
<text x="684.1" y="153.80" font-size="10.20">Check source</text>
</svg>
</body></html>
